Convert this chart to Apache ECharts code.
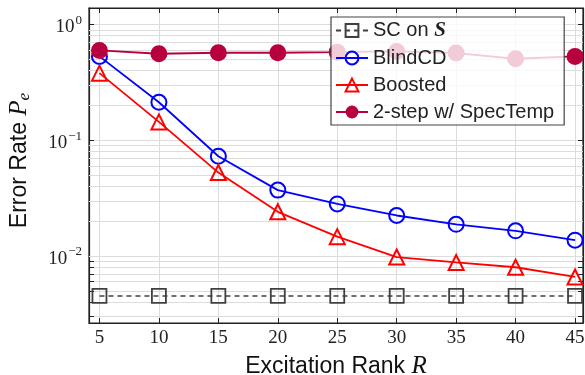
<!DOCTYPE html>
<html>
<head>
<meta charset="utf-8">
<script src="https://cdn.jsdelivr.net/npm/echarts@6/dist/echarts.min.js"></script>
<style>
  html, body { margin: 0; padding: 0; background: #fff; }
  #chart { width: 585px; height: 375px; }
</style>
</head>
<body>
<div id="chart"></div>
<script>
// excitation rank R on the x axis
const ranks = [5, 10, 15, 20, 25, 30, 35, 40, 45];

// error rate P_e per method
const scOnS = [0.00452, 0.00452, 0.00452, 0.00452, 0.00452, 0.00452, 0.00452, 0.00452, 0.00452];
const blindCD = [0.53, 0.213, 0.0728, 0.0371, 0.0282, 0.0224, 0.0188, 0.0165, 0.0137];
const boosted = [0.38, 0.144, 0.0526, 0.0241, 0.0147, 0.0098, 0.0088, 0.0080, 0.0066];
const twoStep = [0.597, 0.559, 0.570, 0.570, 0.577, 0.585, 0.566, 0.506, 0.530];

// log axis ticks
const yMajor = [0.01, 0.1, 1];
const yMinor = [0.003, 0.004, 0.005, 0.006, 0.007, 0.008, 0.009,
  0.02, 0.03, 0.04, 0.05, 0.06, 0.07, 0.08, 0.09,
  0.2, 0.3, 0.4, 0.5, 0.6, 0.7, 0.8, 0.9];
const yTicks = yMajor.concat(yMinor)

const xMin = 4.12, xMax = 45.67
const yMin = 0.00264, yMax = 1.388

const pts = arr => arr.map((v, i) => [ranks[i], v])

const sansFont = '"Liberation Sans", Arial, Helvetica, sans-serif'
const serifFont = '"Liberation Serif", "DejaVu Serif", serif'
const gridGray = '#dcdcdc'

let chart = echarts.init(document.getElementById('chart'))

let option = {
  animation: false,
  grid: {
    left: 89, right: 2, top: 8, bottom: 52,
    outerBoundsMode: 'none',
    containLabel: false,
    show: true,
    borderColor: '#222',
    borderWidth: 1.2
  },
  legend: {
    orient: 'vertical',
    left: 331,
    top: 17,
    z: 20,
    padding: [3, 10, 3, 4],
    itemWidth: 32,
    itemHeight: 16,
    itemGap: 7,
    backgroundColor: 'rgba(255,255,255,0.8)',
    borderColor: '#444',
    borderWidth: 1.2,
    borderRadius: 0,
    textStyle: {
      fontFamily: sansFont,
      fontSize: 20,
      color: '#222',
      rich: {
        i: { fontFamily: serifFont, fontStyle: 'italic', fontWeight: 'bold', fontSize: 21, color: '#222' }
      }
    },
    formatter: name => name === 'SC on S' ? 'SC on {i|S}' : name,
    data: ['SC on S', 'BlindCD', 'Boosted', '2-step w/ SpecTemp']
  },
  xAxis: [{
    type: 'value',
    min: xMin,
    max: xMax,
    name: 'Excitation Rank {i|R}',
    nameLocation: 'middle',
    nameGap: 31,
    nameTextStyle: {
      fontFamily: sansFont,
      fontSize: 23,
      color: '#111',
      rich: {
        i: { fontFamily: serifFont, fontStyle: 'italic', fontSize: 25, color: '#111' }
      }
    },
    axisLine: { show: true, lineStyle: { color: '#222', width: 1.2 } },
    axisTick: { show: true, inside: true, length: 5, customValues: ranks, lineStyle: { color: '#222' } },
    axisLabel: {
      customValues: ranks,
      margin: 6,
      fontFamily: serifFont,
      fontSize: 19,
      color: '#222'
    },
    splitLine: { show: true, lineStyle: { color: gridGray, width: 1 } }
  }, {
    type: 'value',
    position: 'top',
    min: xMin,
    max: xMax,
    axisLine: { show: true, lineStyle: { color: '#222', width: 1.2 } },
    axisTick: { show: true, inside: true, length: 5, customValues: ranks, lineStyle: { color: '#222' } },
    axisLabel: { show: false },
    splitLine: { show: false }
  }],
  yAxis: [{
    type: 'log',
    min: yMin,
    max: yMax,
    name: 'Error Rate {i|P}{sub|e}',
    nameLocation: 'middle',
    nameGap: 56,
    nameTextStyle: {
      fontFamily: sansFont,
      fontSize: 23,
      color: '#111',
      padding: [0, 0, 0, 10],
      rich: {
        i: { fontFamily: serifFont, fontStyle: 'italic', fontSize: 25, color: '#111' },
        sub: { fontFamily: serifFont, fontStyle: 'italic', fontSize: 17, color: '#111', padding: [10, 0, 0, 0] }
      }
    },
    axisLine: { show: true, lineStyle: { color: '#222', width: 1.2 } },
    axisTick: { show: true, inside: true, length: 5, customValues: yTicks, lineStyle: { color: '#222' } },
    axisLabel: {
      customValues: yMajor,
      margin: 7,
      color: '#222',
      formatter: v => {
        const e = Math.round(Math.log10(v))
        return '{b|10}{s|' + (e < 0 ? '\u2212' : '') + Math.abs(e) + '}'
      },
      rich: {
        b: { fontFamily: serifFont, fontSize: 19, color: '#222', padding: [6, 0, 0, 0] },
        s: { fontFamily: serifFont, fontSize: 13, color: '#222', padding: [0, 0, 8, 1] }
      }
    },
    splitLine: { show: true, lineStyle: { color: gridGray, width: 1 } }
  }, {
    type: 'log',
    position: 'right',
    min: yMin,
    max: yMax,
    axisLine: { show: true, lineStyle: { color: '#222', width: 1.2 } },
    axisTick: { show: true, inside: true, length: 5, customValues: yTicks, lineStyle: { color: '#222' } },
    axisLabel: { show: false },
    splitLine: { show: false }
  }],
  series: [
    {
      name: 'SC on S',
      type: 'line',
      data: pts(scOnS),
      symbol: 'rect',
      symbolSize: 14,
      lineStyle: { color: '#404040', width: 1.6, type: [5, 4] },
      itemStyle: { color: 'rgba(255,255,255,0)', borderColor: '#404040', borderWidth: 1.8 },
      z: 3,
      markLine: {
        silent: true,
        symbol: 'none',
        label: { show: false },
        lineStyle: { color: gridGray, width: 1, type: 'solid' },
        z: 1,
        data: yMinor.map(v => ({ yAxis: v }))
      }
    },
    {
      name: 'BlindCD',
      type: 'line',
      data: pts(blindCD),
      symbol: 'circle',
      symbolSize: 15,
      lineStyle: { color: '#0000ff', width: 1.8 },
      itemStyle: { color: 'rgba(255,255,255,0)', borderColor: '#0000ff', borderWidth: 2 },
      z: 4
    },
    {
      name: 'Boosted',
      type: 'line',
      data: pts(boosted),
      symbol: 'triangle',
      symbolSize: 15,
      lineStyle: { color: '#ff0000', width: 1.8 },
      itemStyle: { color: 'rgba(255,255,255,0)', borderColor: '#ff0000', borderWidth: 2 },
      z: 4
    },
    {
      name: '2-step w/ SpecTemp',
      type: 'line',
      data: pts(twoStep),
      symbol: 'circle',
      symbolSize: 17,
      lineStyle: { color: '#b8003f', width: 1.8 },
      itemStyle: { color: '#b8003f' },
      z: 4
    }
  ]
}

option && chart.setOption(option)
</script>
</body>
</html>
